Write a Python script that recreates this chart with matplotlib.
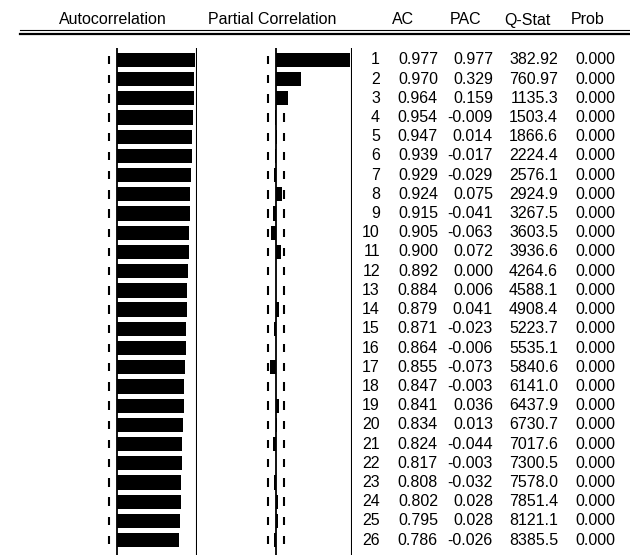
import matplotlib.pyplot as plt
import numpy as np

plt.rcParams['font.family'] = ['Liberation Sans', 'DejaVu Sans']

# Correlogram values
lags = np.arange(1, 27)
ac = [0.977, 0.970, 0.964, 0.954, 0.947, 0.939, 0.929, 0.924, 0.915, 0.905,
      0.900, 0.892, 0.884, 0.879, 0.871, 0.864, 0.855, 0.847, 0.841, 0.834,
      0.824, 0.817, 0.808, 0.802, 0.795, 0.786]
pac = [0.977, 0.329, 0.159, -0.009, 0.014, -0.017, -0.029, 0.075, -0.041, -0.063,
       0.072, 0.000, 0.006, 0.041, -0.023, -0.006, -0.073, -0.003, 0.036, 0.013,
       -0.044, -0.003, -0.032, 0.028, 0.028, -0.026]
qstat = [382.92, 760.97, 1135.3, 1503.4, 1866.6, 2224.4, 2576.1, 2924.9, 3267.5, 3603.5,
         3936.6, 4264.6, 4588.1, 4908.4, 5223.7, 5535.1, 5840.6, 6141.0, 6437.9, 6730.7,
         7017.6, 7300.5, 7578.0, 7851.4, 8121.1, 8385.5]
prob = [0.000] * 26
bound = 0.1  # approx 2/sqrt(T)

W, H = 630, 555
fig = plt.figure(figsize=(W / 100, H / 100), dpi=100)

top_px, bot_px = 47.5, 555
ylims = (26.78, 0.35)


def add_panel(x0, x1):
    ax = fig.add_axes([x0 / W, 1 - bot_px / H, (x1 - x0) / W, (bot_px - top_px) / H])
    ax.set_ylim(*ylims)
    ax.axis('off')
    return ax


def draw_corr(ax, vals):
    ax.set_xlim(-1, 1)
    for b in (-bound, bound):
        ax.vlines(np.full(len(lags), b), lags - 0.22, lags + 0.22,
                  color='black', lw=1.5, zorder=1)
    ax.barh(lags, vals, height=0.74, color='black', zorder=2)
    ax.axvline(0, color='black', lw=1.3, zorder=3)
    ax.axvline(1, color='black', lw=1.5, zorder=3)


ax_ac = add_panel(36.5, 196.5)
draw_corr(ax_ac, ac)
ax_pac = add_panel(200, 352)
draw_corr(ax_pac, pac)

# table of numbers
ax_tab = add_panel(352, 630)
ax_tab.set_xlim(352, 630)
fs = 11.5
for i, lag in enumerate(lags):
    q = qstat[i]
    qtxt = f"{q:.2f}" if q < 1000 else f"{q:.1f}"
    ax_tab.text(380, lag, str(lag), ha='right', va='center', fontsize=fs)
    ax_tab.text(438, lag, f"{ac[i]:.3f}", ha='right', va='center', fontsize=fs)
    ax_tab.text(493, lag, f"{pac[i]:.3f}", ha='right', va='center', fontsize=fs)
    ax_tab.text(558, lag, qtxt, ha='right', va='center', fontsize=fs)
    ax_tab.text(615, lag, f"{prob[i]:.3f}", ha='right', va='center', fontsize=fs)

# header
hy = 1 - 20 / H
for label, xc in [("Autocorrelation", 113), ("Partial Correlation", 272),
                  ("AC", 403), ("PAC", 466), ("Q-Stat", 527), ("Prob", 588)]:
    fig.text(xc / W, hy, label, ha='center', va='center', fontsize=fs)

# double rule under the header
fig.add_artist(plt.Line2D([20 / W, 1], [1 - 30 / H] * 2, color='black', lw=0.8))
fig.add_artist(plt.Line2D([20 / W, 1], [1 - 33.5 / H] * 2, color='black', lw=1.6))

fig.savefig('out.png', dpi=100, facecolor='white')
